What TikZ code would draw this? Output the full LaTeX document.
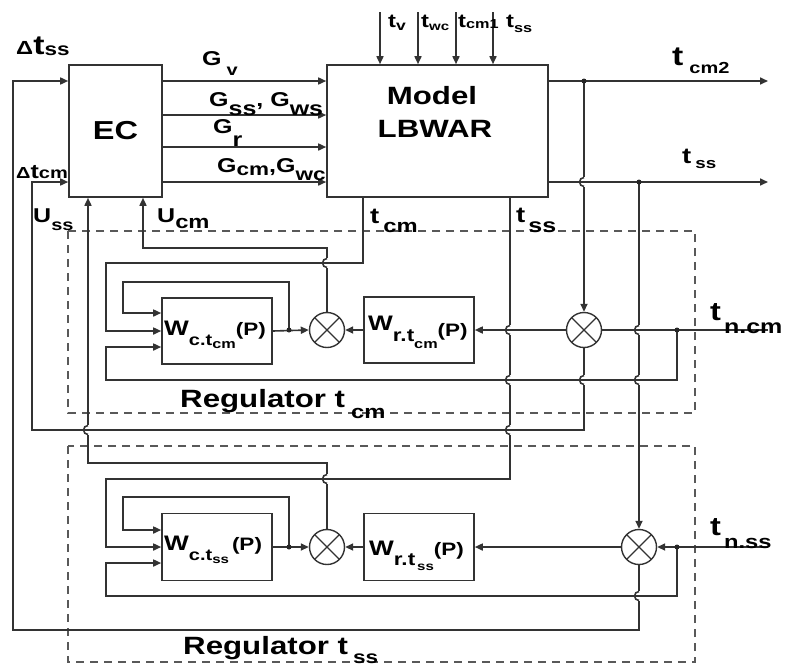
\documentclass[tikz,border=0pt]{standalone}
\usepackage{fontspec}
\setmainfont{Liberation Sans}[FakeStretch=1.25]
\usetikzlibrary{arrows.meta,calc}
\newcommand\fs[1]{\fontsize{#1}{#1}\selectfont}
\newcommand\dn[3]{\raisebox{-#1}{\fs{#2}#3}}
\tikzset{
  ln/.style={line width=1.6pt, draw=black!80},
  arr/.style={ln, -{Triangle[length=8pt,width=7pt]}},
  blk/.style={draw=black!80, line width=1.6pt, rectangle, inner sep=0pt, fill=white},
  mul/.style={circle, draw=black!80, line width=1.4pt, minimum size=35pt, inner sep=0pt, fill=white,
    path picture={\draw[line width=1.2pt,black!80] (path picture bounding box.north west)--(path picture bounding box.south east) (path picture bounding box.north east)--(path picture bounding box.south west);}},
  dot/.style={circle, fill=black!85, inner sep=0pt, minimum size=5pt},
  dsh/.style={line width=1.5pt, draw=black!65, dash pattern=on 8pt off 6pt},
  lbl/.style={inner sep=0pt, anchor=base west, text=black},
  every node/.style={font=\bfseries},
  hop/.pic={\fill[white] (-1.4,-5) rectangle (1.4,5); \draw[ln] (-2.5,0)--(2.5,0); \draw[ln] (0,-4.5) arc[start angle=90,end angle=270,radius=4.5pt];}
}
\begin{document}
\begin{tikzpicture}[x=1pt,y=-1pt]
\fill[white] (0,0) rectangle (787,670);
\useasboundingbox (0,0) rectangle (787,670);

% dashed regulator frames
\draw[dsh] (68,231) rectangle (695,413);
\draw[dsh] (68,446) rectangle (695,662);

% main blocks
\node[blk,minimum width=93pt,minimum height=132pt] (EC) at (115.5,131) {\fs{26}EC};
\node[blk,minimum width=221pt,minimum height=132pt] (M) at (437.5,131) {};
\node[lbl,anchor=base] (Mt1) at (432,104) {\fs{25}Model};
\node[lbl,anchor=base] (Mt2) at (435,137) {\fs{25}LBWAR};

% regulator blocks
\node[blk,minimum width=110pt,minimum height=66pt] (Wc1) at (217,331) {};
\node[blk,minimum width=110pt,minimum height=66pt] (Wr1) at (419,330) {};
\node[mul] (m1) at (327,330) {};
\node[mul] (s1) at (584,330) {};
\node[blk,minimum width=110pt,minimum height=67pt] (Wc2) at (217,547) {};
\node[blk,minimum width=110pt,minimum height=67pt] (Wr2) at (419,547) {};
\node[mul] (m2) at (327,547) {};
\node[mul] (s2) at (639,547) {};

% coordinates
\coordinate (jA) at (584,81);
\coordinate (jB) at (639,182);
\coordinate (oA) at (768,81);
\coordinate (oB) at (768,182);
\coordinate (n1) at (768,330);
\coordinate (n2) at (768,547);
\coordinate (d1) at (677,330);
\coordinate (d2) at (677,547);
\coordinate (j1) at (289,330);
\coordinate (j2) at (289,547);

% EC -> model
\foreach \y in {81,115,147,182} \draw[arr] (EC.east|-0,\y) -- (M.west|-0,\y);
% top inputs
\foreach \x in {380,418,456,493} \draw[arr] (\x,12) -- (M.north-|\x,0);
% outputs
\draw[arr] (M.east|-jA) -- (oA);
\draw[arr] (M.east|-jB) -- (oB);

% regulator t_cm
\draw[arr] (jA) -- (s1.north);
\draw[arr] (s1.south) |- (32,430) |- (EC.west|-0,182);
\draw[ln] (n1) -- (s1.east);
\draw[arr] (s1.west) -- (Wr1.east);
\draw[arr] (Wr1.west) -- (m1.east);
\draw[arr] (Wc1.east) -- (m1.west);
\draw[arr] (j1) |- (123,282) |- (Wc1.west|-0,313);
\draw[arr] (M.south-|363,0) |- (106,263) |- (Wc1.west);
\draw[arr] (d1) |- (106,380) |- (Wc1.west|-0,347);
\draw[arr] (m1.north) |- (143,248) -- (EC.south-|143,0);

% regulator t_ss
\draw[arr] (jB) -- (s2.north);
\draw[arr] (s2.south) |- (13,630) |- (EC.west|-0,81);
\draw[arr] (n2) -- (s2.east);
\draw[arr] (s2.west) -- (Wr2.east);
\draw[arr] (Wr2.west) -- (m2.east);
\draw[arr] (Wc2.east) -- (m2.west);
\draw[arr] (j2) |- (123,497) |- (Wc2.west|-0,530);
\draw[arr] (M.south-|510,0) |- (106,479) |- (Wc2.west);
\draw[arr] (d2) |- (106,596) |- (Wc2.west|-0,563);
\draw[arr] (m2.north) |- (88,463) -- (EC.south-|88,0);

% dots
\foreach \p in {jA,jB,j1,j2,d1,d2} \node[dot] at (\p) {};

% line hops
\foreach \p in {(584,182),(584,380),(639,330),(639,380),(639,596),(510,330),(510,380),(510,430),(327,263),(327,479),(88,430)}
  \pic at \p {hop};

% labels
\node[lbl] (Ldtss) at (16,54) {\fs{19}Δ\fs{27}t\dn{1pt}{18}{ss}};
\node[lbl] (Ldtcm) at (16,178) {\fs{16}Δ\fs{20}t\dn{0pt}{16}{cm}};
\node[lbl] (LGv) at (202,65) {\fs{20}G\hspace{5pt}\dn{10pt}{16}{v}};
\node[lbl] (LGss) at (209,106) {\fs{20}G\dn{9pt}{20}{ss}, G\dn{9pt}{20}{ws}};
\node[lbl] (LGr) at (213,133) {\fs{20}G\dn{13pt}{20}{r}};
\node[lbl] (LGcm) at (217,172) {\fs{20}G\dn{3pt}{18}{cm},G\dn{8pt}{18}{wc}};

\node[lbl] (Ltv) at (388,27) {\fs{19}t\dn{3pt}{14}{v}};
\node[lbl] (Ltwc) at (421,27) {\fs{19}t\dn{3pt}{12}{wc}};
\node[lbl] (Ltcm1) at (458,27) {\fs{19}t\dn{1pt}{13}{cm1}};
\node[lbl] (Ltss) at (506,27) {\fs{19}t\dn{5pt}{13}{ss}};

\node[lbl] (Ltcm2) at (672,65) {\fs{27}t\hspace{6pt}\dn{8pt}{16}{cm2}};
\node[lbl] (Ltssr) at (682,163) {\fs{22}t\hspace{4pt}\dn{5pt}{15}{ss}};
\node[lbl] (Ltcm) at (370,223) {\fs{22}t\hspace{4pt}\dn{9pt}{19}{cm}};
\node[lbl] (Ltssb) at (516,222) {\fs{22}t\hspace{3pt}\dn{10pt}{20}{ss}};
\node[lbl] (LUss) at (33,222) {\fs{20}U\dn{8pt}{16}{ss}};
\node[lbl] (LUcm) at (157,222) {\fs{20}U\dn{6pt}{19}{cm}};

\node[lbl] (LR1) at (180,407) {\fs{25}Regulator t\hspace{6pt}\dn{11pt}{19}{cm}};
\node[lbl] (LR2) at (183,654) {\fs{25}Regulator t\hspace{5pt}\dn{9pt}{18}{ss}};
\node[lbl] (Ltncm) at (710,320) {\fs{26}t\hspace{3pt}\dn{13pt}{20}{n.cm}};
\node[lbl] (Ltnss) at (710,535) {\fs{26}t\hspace{3pt}\dn{13pt}{19}{n.ss}};

\node[lbl] (LWc1) at (164,335) {\fs{21}W\dn{10pt}{16}{c.t}\dn{13pt}{13}{cm}\fs{18}(P)};
\node[lbl] (LWr1) at (368,330) {\fs{21}W\dn{11pt}{18}{r.t}\dn{18pt}{13}{cm}\dn{6pt}{18}{(P)}};
\node[lbl] (LWc2) at (164,550) {\fs{21}W\dn{10pt}{16}{c.t}\dn{13pt}{12}{ss}\hspace{3pt}\fs{18}(P)};
\node[lbl] (LWr2) at (369,555) {\fs{21}W\dn{10pt}{18}{r.t}\hspace{2pt}\dn{15pt}{12}{ss}\fs{18}(P)};
\end{tikzpicture}
\end{document}
